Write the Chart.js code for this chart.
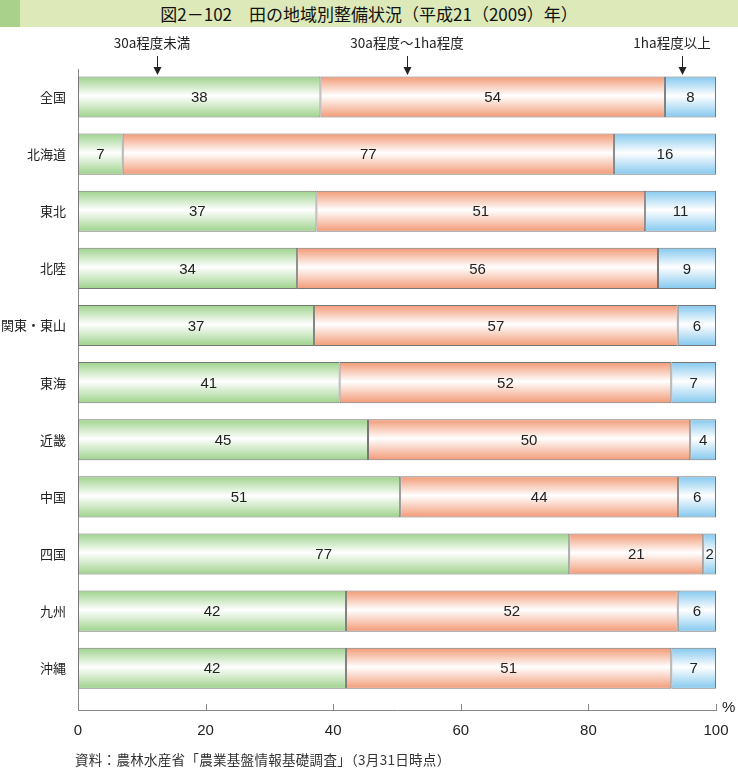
<!DOCTYPE html>
<html>
<head>
<meta charset="utf-8">
<script src="https://cdn.jsdelivr.net/npm/chart.js@4/dist/chart.umd.min.js"></script>
<style>
  body { margin: 0; background: #fff; }
  #wrap { position: relative; width: 738px; height: 770px; overflow: hidden; }
  #ctx { position: absolute; left: 0; top: 0; }
  .title {
    position: absolute; left: 0; top: 0; width: 738px; height: 27px;
    background: #dde9b8; font: 17px 'Noto Sans CJK JP', sans-serif; color: #111;
    line-height: 27px; text-align: center;
  }
  .title::before {
    content: ''; position: absolute; left: 0; top: 0; width: 20px; height: 27px; background: #a9d18c;
  }
  .note {
    position: absolute; left: 75px; top: 749px; font: 13.5px 'Noto Sans CJK JP', serif; color: #333;
    letter-spacing: 0.3px;
  }
</style>
</head>
<body>
<div id="wrap">
  <canvas id="ctx" width="738" height="770"></canvas>
  <div class="title">図2－102　田の地域別整備状況（平成21（2009）年）</div>
  <div class="note">資料：農林水産省「農業基盤情報基礎調査」（3月31日時点）</div>
</div>
<script>
const regions = ['全国', '北海道', '東北', '北陸', '関東・東山', '東海', '近畿', '中国', '四国', '九州', '沖縄']
const small = [38, 7, 37, 34, 37, 41, 45, 51, 77, 42, 42]
const middle = [54, 77, 51, 56, 57, 52, 50, 44, 21, 52, 51]
const large = [8, 16, 11, 9, 6, 7, 4, 6, 2, 6, 7]
const seriesNames = ['30a程度未満', '30a程度～1ha程度', '1ha程度以上']
const arrowAt = [12.4, 51.6, 94.7]
const xTicks = [0, 20, 40, 60, 80, 100]

const $chart = document.getElementById('ctx')
const latin = "'Liberation Sans', 'Noto Sans CJK JP', sans-serif"
const cjk = "'Noto Sans CJK JP', sans-serif"

// printed shares are rounded; each bar still fills 100%
const rowTotal = regions.map((_, i) => small[i] + middle[i] + large[i])
const toPoints = (arr) => arr.map((v, i) => ({x: v * 100 / rowTotal[i], y: i, label: v}))

const gradient = (color) => (c) => {
  const {chart} = c
  const y = chart.scales.y
  if (!chart.chartArea || !y || !c.raw) return color
  const yc = y.getPixelForValue(c.raw.y)
  const h = 20.5
  const g = chart.ctx.createLinearGradient(0, yc - h, 0, yc + h)
  g.addColorStop(0, color)
  g.addColorStop(0.47, '#ffffff')
  g.addColorStop(1, color)
  return g
}

const extras = {
  id: 'extras',
  afterDatasetsDraw: (chart) => {
    const {ctx} = chart
    const {bottom} = chart.chartArea
    const x = chart.scales.x

    // values inside the bars
    ctx.save()
    ctx.fillStyle = '#222'
    ctx.font = '15px ' + latin
    ctx.textAlign = 'center'
    ctx.textBaseline = 'middle'
    chart.data.datasets.forEach((ds, di) => {
      chart.getDatasetMeta(di).data.forEach((el, i) => {
        const p = el.getCenterPoint()
        ctx.fillText(ds.data[i].label, p.x, p.y + 1)
      })
    })
    ctx.restore()

    // inward tick marks on the x axis
    ctx.save()
    ctx.strokeStyle = '#888'
    ctx.lineWidth = 1
    xTicks.forEach(v => {
      const px = Math.round(x.getPixelForValue(v)) + 0.5
      ctx.beginPath()
      ctx.moveTo(px, bottom - 6)
      ctx.lineTo(px, bottom)
      ctx.stroke()
    })
    ctx.fillStyle = '#222'
    ctx.font = '15px ' + latin
    ctx.textAlign = 'left'
    ctx.textBaseline = 'middle'
    ctx.fillText('%', x.getPixelForValue(100) + 6, bottom - 2)
    ctx.restore()

    // series labels with arrows
    ctx.save()
    ctx.fillStyle = '#222'
    ctx.strokeStyle = '#222'
    ctx.font = '13.5px ' + cjk
    ctx.textBaseline = 'middle'
    const textX = [152, 407, 672]
    seriesNames.forEach((name, i) => {
      const ax = Math.round(x.getPixelForValue(arrowAt[i])) + 0.5
      ctx.textAlign = 'center'
      ctx.fillText(name, textX[i], 43)
      ctx.beginPath()
      ctx.moveTo(ax, 56)
      ctx.lineTo(ax, 68)
      ctx.stroke()
      ctx.beginPath()
      ctx.moveTo(ax - 4, 67)
      ctx.lineTo(ax + 4, 67)
      ctx.lineTo(ax, 75)
      ctx.closePath()
      ctx.fill()
    })
    ctx.restore()
  }
}

const data = {
  datasets: [
    {label: seriesNames[0], data: toPoints(small), backgroundColor: gradient('#9ed28c')},
    {label: seriesNames[1], data: toPoints(middle), backgroundColor: gradient('#f29a76')},
    {label: seriesNames[2], data: toPoints(large), backgroundColor: gradient('#84c8ee')}
  ]
}

const options = {
  type: 'bar',
  data,
  options: {
    indexAxis: 'y',
    responsive: false,
    animation: false,
    layout: {padding: {top: 69, right: 22, left: 0, bottom: 0}},
    datasets: {
      bar: {
        borderColor: '#777',
        borderWidth: 1,
        borderSkipped: false,
        categoryPercentage: 1,
        barPercentage: 0.72
      }
    },
    plugins: {
      legend: {display: false},
      tooltip: {enabled: false}
    },
    scales: {
      x: {
        stacked: true,
        min: 0,
        max: 100,
        afterFit: (s) => { s.height = 60; s.paddingLeft = 0; s.paddingRight = 0 },
        afterBuildTicks: (s) => { s.ticks = xTicks.map(v => ({value: v})) },
        grid: {display: false, drawTicks: false},
        border: {color: '#888', width: 1},
        ticks: {color: '#222', font: {size: 15, family: latin}, padding: 12, maxRotation: 0}
      },
      y: {
        type: 'linear',
        stacked: true,
        reverse: true,
        offset: false,
        min: -0.49,
        max: 10.73,
        afterFit: (s) => { s.width = 78; s.paddingTop = 0; s.paddingBottom = 0 },
        afterBuildTicks: (s) => { s.ticks = regions.map((_, i) => ({value: i})) },
        grid: {display: false, drawTicks: false, offset: false},
        border: {color: '#888', width: 1},
        ticks: {
          color: '#222',
          font: {size: 13, family: cjk},
          padding: 12,
          autoSkip: false,
          callback: (v) => regions[v]
        }
      }
    }
  },
  plugins: [extras]
}

const chart = new Chart($chart, options)
</script>
</body>
</html>
